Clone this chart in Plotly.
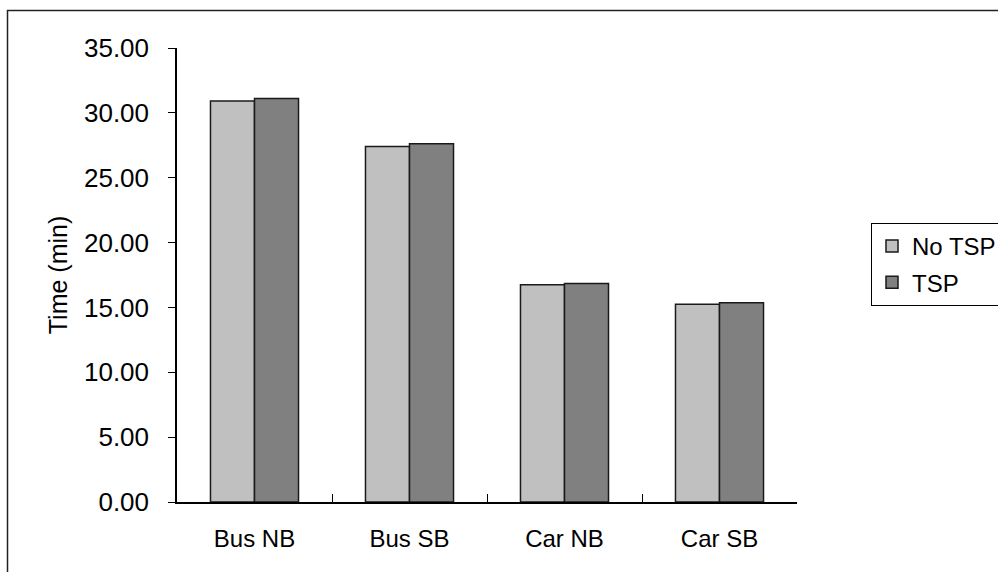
import plotly.graph_objects as go

categories = ["Bus NB", "Bus SB", "Car NB", "Car SB"]
no_tsp = [30.92, 27.41, 16.75, 15.25]
tsp = [31.10, 27.62, 16.85, 15.36]
series_names = ["No TSP", "TSP"]
y_ticks = [0, 5, 10, 15, 20, 25, 30, 35]

W, H = 998, 572
L, R, T, B = 177, 797, 48, 502
pw, ph = R - L, B - T

FONT = "Liberation Sans, Arial, sans-serif"

fig = go.Figure()
fig.add_trace(go.Bar(x=categories, y=no_tsp, name=series_names[0], legendgroup="a",
                     marker=dict(color="#C0C0C0", line=dict(color="#1a1a1a", width=1.5))))
fig.add_trace(go.Bar(x=categories, y=tsp, name=series_names[1], legendgroup="b",
                     marker=dict(color="#808080", line=dict(color="#1a1a1a", width=1.5))))

def px_x(x):
    return (x - L) / pw

def px_y(y):
    return (B - y) / ph

fig.update_layout(
    width=W, height=H,
    margin=dict(l=L, r=W - R, t=T, b=H - B, pad=0, autoexpand=False),
    paper_bgcolor="white", plot_bgcolor="white",
    barmode="group", bargap=0.432, bargroupgap=0,
    font=dict(family=FONT, size=24, color="black"),
    showlegend=True,
    legend=dict(x=px_x(871), y=px_y(223), xanchor="left", yanchor="top",
                bordercolor="black", borderwidth=1, bgcolor="white",
                font=dict(size=24), traceorder="grouped", tracegroupgap=2,
                itemwidth=30),
    xaxis=dict(showline=True, linecolor="black", linewidth=1.5,
               ticks="inside", tickson="boundaries", ticklen=8, tickcolor="black",
               tickwidth=1, ticklabelstandoff=14, showgrid=False, zeroline=False,
               tickfont=dict(size=24)),
    yaxis=dict(range=[0, 35], tickvals=y_ticks, tickformat=".2f",
               showline=True, linecolor="black", linewidth=1.5,
               ticks="outside", ticklen=7, tickcolor="black", tickwidth=1,
               ticklabelstandoff=14, showgrid=False, zeroline=False,
               tickfont=dict(size=26),
               title=dict(text="Time (min)", font=dict(size=25), standoff=9)),
    shapes=[dict(type="rect", xref="paper", yref="paper",
                 x0=px_x(7.5), x1=px_x(1010), y0=px_y(590), y1=px_y(10.5),
                 line=dict(color="#222222", width=1.5), layer="below")],
)

fig.write_html("out.html", config={"displayModeBar": False},
               post_script="document.body.style.margin='0';document.body.style.overflow='hidden';")
